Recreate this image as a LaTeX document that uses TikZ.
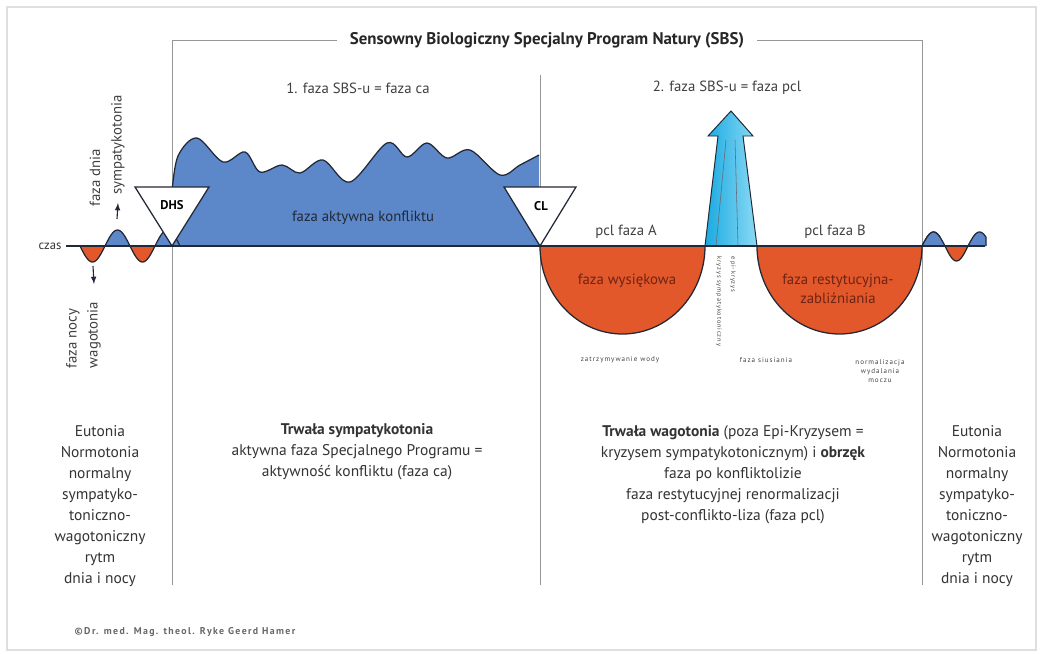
\documentclass[tikz,border=0pt]{standalone}
\usepackage{fontspec}
\setmainfont{PT Sans}
\newfontfamily\spacedfont[LetterSpace=14]{PT Sans}
\usepackage{xcolor}
\usepackage{tikz}
\usetikzlibrary{positioning}

\definecolor{sbsblue}{RGB}{92,136,202}
\definecolor{pclorange}{RGB}{226,88,42}
\definecolor{crisiscyan}{RGB}{25,170,225}
\definecolor{crisislight}{RGB}{140,218,245}
\definecolor{outline}{RGB}{35,40,55}
\definecolor{framegray}{RGB}{150,150,150}
\definecolor{bowltext}{RGB}{110,35,20}

\tikzset{
  wave/.style={draw=outline,line width=0.9pt},
  frameline/.style={framegray,line width=0.7pt},
  phase/.style={font=\fontsize{10.5}{12}\selectfont,text=black!75},
  bottomtext/.style={align=center,font=\fontsize{11}{15}\selectfont,text=black!80},
  tinytext/.style={font=\spacedfont\fontsize{5}{6.5}\selectfont,text=black!75,align=center},
  marker/.style={draw=outline,fill=white,line width=0.9pt},
}

\begin{document}
\begin{tikzpicture}[x=0.025cm,y=-0.025cm]
 \useasboundingbox (0,0) rectangle (1041,653);
 \draw[gray!25,line width=1.5pt] (7,7) rectangle (1036,650);

 % frame of the programme
 \node[font=\bfseries\fontsize{12}{14}\selectfont,inner xsep=9pt,text=black!85] (title) at (547,40) {Sensowny Biologiczny Specjalny Program Natury (SBS)};
 \coordinate (frameL) at (172,40);
 \coordinate (frameR) at (922,40);
 \draw[frameline] (title.west) -- (frameL) -- (172,585);
 \draw[frameline] (title.east) -- (frameR) -- (922,585);
 \draw[frameline] (540,75) -- (540,585);

 % conflict active phase
 \fill[sbsblue] (172,246) -- plot[smooth,tension=0.55] coordinates {(172,192) (178,156) (197,138) (223,162) (245,152) (260,172) (282,165) (300,173) (323,160) (350,182) (387,143) (407,157) (427,143) (447,158) (470,150) (500,175) (520,165) (539,155)} -- (539,246) -- cycle;
 \draw[wave] plot[smooth,tension=0.55] coordinates {(172,192) (178,156) (197,138) (223,162) (245,152) (260,172) (282,165) (300,173) (323,160) (350,182) (387,143) (407,157) (427,143) (447,158) (470,150) (500,175) (520,165) (539,155)};

 % day and night rhythm
 \foreach \a in {80,130} {
   \draw[wave,fill=pclorange] plot[domain=\a:\a+25,samples=20] (\x,{246+16*sin((\x-\a)*7.2)});
 }
 \foreach \a in {105,155} {
   \draw[wave,fill=sbsblue] plot[domain=\a:\a+25,samples=20] (\x,{246-16*sin((\x-\a)*7.2)});
 }
 \draw[wave,fill=pclorange] plot[domain=945:968,samples=20] (\x,{246+15*sin((\x-945)*7.826)});
 \foreach \a in {922,968} {
   \draw[wave,fill=sbsblue] plot[domain=\a:\a+18,samples=20] (\x,{246-14*sin((\x-\a)*7.826)}) -- (\a+18,246);
 }
 \draw[wave,fill=sbsblue] plot[domain=922:945,samples=20] (\x,{246-14*sin((\x-922)*7.826)});

 % healing phase
 \draw[wave,fill=pclorange] (540,246) arc[start angle=180,end angle=0,x radius=82.5,y radius=88];
 \draw[wave,fill=pclorange] (757,246) arc[start angle=180,end angle=0,x radius=82.5,y radius=88];
 \shadedraw[left color=crisiscyan,right color=crisislight,draw=outline,line width=0.7pt] (705,246) -- (718,136) -- (708,136) -- (731,111) -- (753,136) -- (743,136) -- (757,246) -- cycle;
 \draw[outline!70,line width=0.4pt] (716,246) -- (726,140);
 \draw[outline!70,line width=0.4pt] (738,246) -- (735,140);

 % time axis
 \node[font=\fontsize{9}{10}\selectfont,text=black!80] (czas) at (50,246) {czas};
 \coordinate (axisend) at (985,246);
 \draw[outline,line width=1.2pt] (czas.east) -- (axisend);

 % DHS and CL
 \coordinate (dhs) at (172,246);
 \coordinate (cl) at (540,246);
 \draw[marker] (135,187) -- (209,187) -- (dhs) -- cycle;
 \draw[marker] (504,187) -- (576,187) -- (cl) -- cycle;
 \node[font=\bfseries\fontsize{9}{10}\selectfont] (dhslabel) at (172,205) {DHS};
 \node[font=\bfseries\fontsize{9}{10}\selectfont] (cllabel) at (541,206) {CL};

 % phase labels
 \node[phase] (ca) at (358,88) {1. faza SBS-u = faza ca};
 \node[phase] (pcl) at (727,88) {2. faza SBS-u = faza pcl};
 \node[phase,text=outline] (active) at (363,218) {faza aktywna konfliktu};
 \node[phase] (pclA) at (626,232) {pcl faza A};
 \node[phase] (pclB) at (835,232) {pcl faza B};
 \node[phase,text=bowltext] (exudate) at (627,281) {faza wysiękowa};
 \node[phase,text=bowltext,align=center,font=\fontsize{10.5}{13.5}\selectfont] (scar) at (838,289) {faza restytucyjna-\\zabliźniania};
 \node[tinytext] (water) at (620,360) {zatrzymywanie wody};
 \node[tinytext] (urine) at (766,360) {faza siusiania};
 \node[tinytext] (norm) at (880,371) {normalizacja\\wydalania\\moczu};
 \node[tinytext,rotate=-90,anchor=west,font=\spacedfont\fontsize{4.5}{6}\selectfont] (crisisA) at (719,252) {kryzys sympatykotoniczny};
 \node[tinytext,rotate=-90,anchor=west,font=\spacedfont\fontsize{4.5}{6}\selectfont] (crisisB) at (733,252) {epi-kryzys};

 % day and night labels
 \node[phase,rotate=90] (dayA) at (95,178) {faza dnia};
 \node[phase,rotate=90] (dayB) at (118,145) {sympatykotonia};
 \node[phase,rotate=90,anchor=west] (nightA) at (73,373) {faza nocy};
 \node[phase,rotate=90,anchor=west] (nightB) at (94,373) {wagotonia};
 \coordinate (dayfoot) at (117,219);
 \draw[-latex,outline,line width=0.8pt] (dayfoot) -- (dayB.west |- 0,203);
 \coordinate (nightfoot) at (93,266);
 \draw[-latex,outline,line width=0.8pt] (nightfoot) -- (nightB.west |- 0,284);

 % bottom texts
 \node[bottomtext] (eutoniaL) at (100,506) {Eutonia\\Normotonia\\normalny\\sympatyko-\\toniczno-\\wagotoniczny\\rytm\\dnia i nocy};
 \node[bottomtext] (eutoniaR) at (977,506) {Eutonia\\Normotonia\\normalny\\sympatyko-\\toniczno-\\wagotoniczny\\rytm\\dnia i nocy};
 \node[bottomtext] (sympat) at (357,452) {\textbf{Trwała sympatykotonia}\\aktywna faza Specjalnego Programu =\\aktywność konfliktu (faza ca)};
 \node[bottomtext] (vagot) at (733,475) {\textbf{Trwała wagotonia} (poza Epi-Kryzysem =\\kryzysem sympatykotonicznym) i \textbf{obrzęk}\\faza po konfliktolizie\\faza restytucyjnej renormalizacji\\post-conflikto-liza (faza pcl)};

 \node[font=\spacedfont\bfseries\fontsize{7}{8}\selectfont,text=black!60] (copy) at (185,632) {©Dr. med. Mag. theol. Ryke Geerd Hamer};
\end{tikzpicture}
\end{document}
